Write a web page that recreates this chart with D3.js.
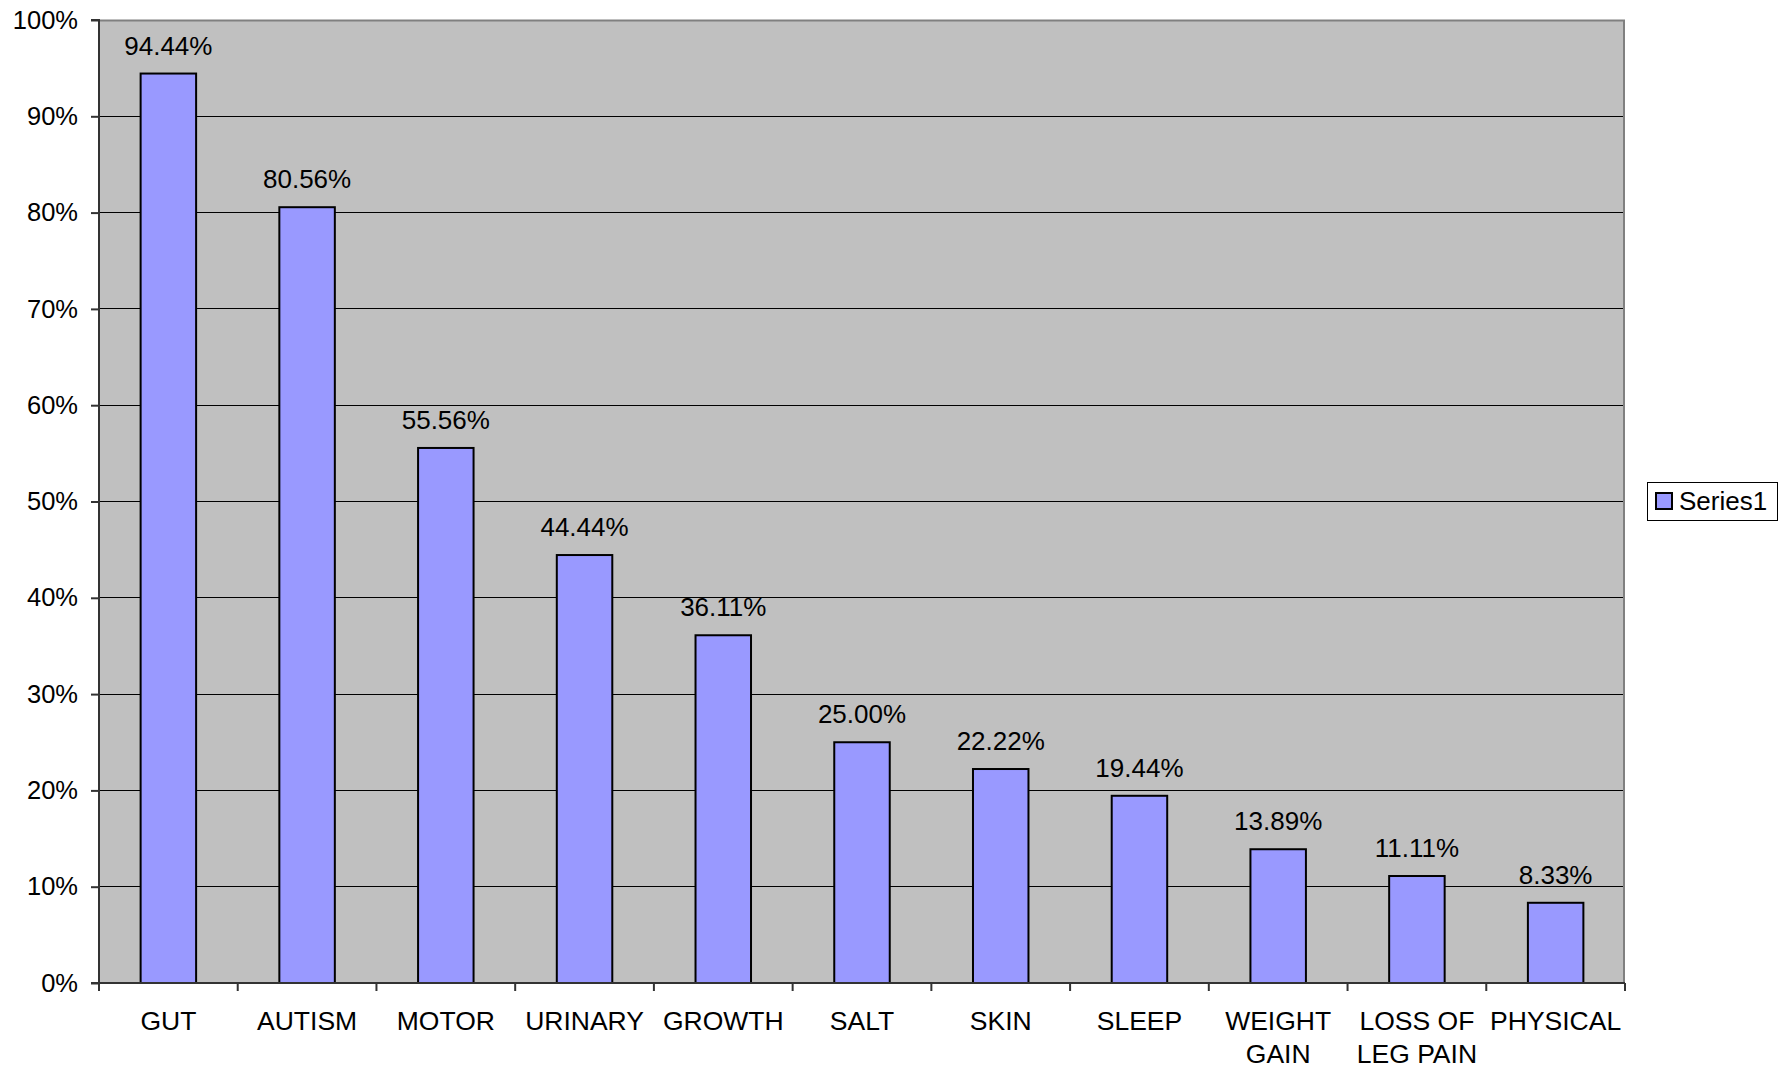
<!DOCTYPE html>
<html>
<head>
<meta charset="utf-8">
<script src="https://cdn.jsdelivr.net/npm/d3@7/dist/d3.min.js"></script>
<style>
  html, body { margin: 0; padding: 0; background: #fff; }
  svg { display: block; font-family: "Liberation Sans", Arial, sans-serif; }
</style>
</head>
<body>
<svg id="chart" width="1786" height="1068"></svg>
<script>
// Share of cases reporting each symptom group
const categories = ["GUT", "AUTISM", "MOTOR", "URINARY", "GROWTH", "SALT", "SKIN", "SLEEP", "WEIGHT GAIN", "LOSS OF LEG PAIN", "PHYSICAL"];
const categoryLines = [["GUT"], ["AUTISM"], ["MOTOR"], ["URINARY"], ["GROWTH"], ["SALT"], ["SKIN"], ["SLEEP"], ["WEIGHT", "GAIN"], ["LOSS OF", "LEG PAIN"], ["PHYSICAL"]];
const series1 = [94.44, 80.56, 55.56, 44.44, 36.11, 25.00, 22.22, 19.44, 13.89, 11.11, 8.33];
const yTicks = [0, 10, 20, 30, 40, 50, 60, 70, 80, 90, 100];
const seriesName = "Series1";

const svg = d3.select("#chart");
const plot = { left: 99, right: 1625, top: 20, bottom: 983 };

const x = d3.scaleBand().domain(categories).range([plot.left, plot.right]).paddingInner(0).paddingOuter(0);
const y = d3.scaleLinear().domain([0, 100]).range([plot.bottom, plot.top]);

// plot background
svg.append("rect")
  .attr("x", plot.left).attr("y", plot.top)
  .attr("width", plot.right - plot.left).attr("height", plot.bottom - plot.top)
  .attr("fill", "#c0c0c0");

// horizontal gridlines
svg.append("g").selectAll("line")
  .data(yTicks.filter(d => d > 0 && d < 100))
  .join("line")
  .attr("x1", plot.left).attr("x2", plot.right)
  .attr("y1", d => y(d)).attr("y2", d => y(d))
  .attr("stroke", "#000").attr("stroke-width", 1).attr("shape-rendering", "crispEdges");

// plot border (top and right)
svg.append("path")
  .attr("d", `M${plot.left},${plot.top + 0.5}H${plot.right - 1}V${plot.bottom}`)
  .attr("fill", "none").attr("stroke", "#808080").attr("stroke-width", 2);

// bars
const bw = x.bandwidth() * 0.4;
svg.append("g").selectAll("rect")
  .data(series1)
  .join("rect")
  .attr("x", (d, i) => x(categories[i]) + (x.bandwidth() - bw) / 2)
  .attr("y", d => y(d))
  .attr("width", bw)
  .attr("height", d => y(0) - y(d))
  .attr("fill", "#9999ff")
  .attr("stroke", "#000")
  .attr("stroke-width", 2);

// value labels
svg.append("g").selectAll("text")
  .data(series1)
  .join("text")
  .attr("x", (d, i) => x(categories[i]) + x.bandwidth() / 2)
  .attr("y", d => y(d) - 19)
  .attr("text-anchor", "middle")
  .attr("font-size", 26)
  .attr("fill", "#000")
  .text(d => d.toFixed(2) + "%");

// y axis
const yAxis = d3.axisLeft(y).tickValues(yTicks).tickFormat(d => d + "%").tickSize(8).tickPadding(13);
const gy = svg.append("g").attr("transform", `translate(${plot.left},0)`).call(yAxis);
gy.select(".domain").attr("stroke", "#333").attr("stroke-width", 2).attr("d", `M-8,${plot.top}H0V${plot.bottom}H-8`);
gy.selectAll(".tick line").attr("stroke", "#333").attr("stroke-width", 2);
gy.selectAll(".tick text").attr("font-size", 25.5).attr("fill", "#000").attr("font-family", "Liberation Sans, Arial, sans-serif");

// x axis: line and category boundary ticks
const gx = svg.append("g");
gx.append("line")
  .attr("x1", plot.left - 8).attr("x2", plot.right)
  .attr("y1", plot.bottom).attr("y2", plot.bottom)
  .attr("stroke", "#333").attr("stroke-width", 2);
const bounds = categories.map(c => x(c)).concat([plot.right]);
gx.selectAll("line.tk")
  .data(bounds)
  .join("line").attr("class", "tk")
  .attr("x1", d => d).attr("x2", d => d)
  .attr("y1", plot.bottom).attr("y2", plot.bottom + 8)
  .attr("stroke", "#333").attr("stroke-width", 2);

// category labels
const lbl = gx.selectAll("text.cat")
  .data(categoryLines)
  .join("text").attr("class", "cat")
  .attr("text-anchor", "middle")
  .attr("font-size", 26.5)
  .attr("fill", "#000");
lbl.each(function(lines, i) {
  const cx = x(categories[i]) + x.bandwidth() / 2;
  d3.select(this).selectAll("tspan")
    .data(lines)
    .join("tspan")
    .attr("x", cx)
    .attr("y", (d, j) => 1030 + j * 33)
    .text(d => d);
});

// legend
const lg = svg.append("g");
lg.append("rect")
  .attr("x", 1647.5).attr("y", 482.5).attr("width", 130).attr("height", 38)
  .attr("fill", "#fff").attr("stroke", "#000").attr("stroke-width", 1);
lg.append("rect")
  .attr("x", 1656).attr("y", 493).attr("width", 16).attr("height", 16)
  .attr("fill", "#9999ff").attr("stroke", "#000").attr("stroke-width", 2);
lg.append("text")
  .attr("x", 1679).attr("y", 510)
  .attr("font-size", 26).attr("fill", "#000")
  .text(seriesName);
</script>
</body>
</html>
